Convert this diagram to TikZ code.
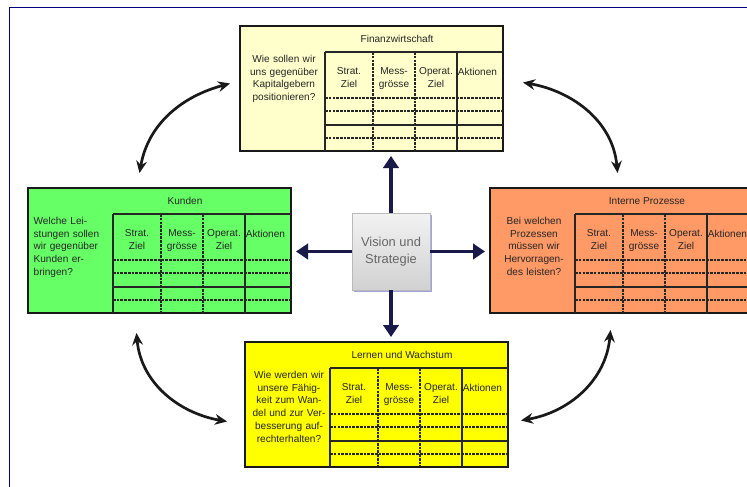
\documentclass[tikz,border=0pt]{standalone}
\usepackage{fontspec}
\setmainfont{Liberation Sans}
\usetikzlibrary{arrows.meta,calc,shadows}

\definecolor{finyellow}{HTML}{FFFFCC}
\definecolor{kundgreen}{HTML}{66FF66}
\definecolor{procorange}{HTML}{FF9966}
\definecolor{learnyellow}{HTML}{FFFF00}
\definecolor{spokeblue}{HTML}{1A1A4A}
\definecolor{framenavy}{HTML}{000080}

\newcommand{\scorecard}[6]{%
\begin{scope}[shift={#2}]
\node [card,fill=#3] (#1) at (0,0) {};
\draw [gridline] (85,26) -- (263,26);
\draw [gridline] (85,26) -- (85,125);
\draw [griddash] (133,26) -- (133,125);
\draw [griddash] (175,26) -- (175,125);
\draw [gridline] (217,26) -- (217,125);
\draw [griddash] (85,72) -- (263,72);
\draw [griddash] (85,85) -- (263,85);
\draw [gridline] (85,99) -- (263,99);
\draw [griddash] (85,112) -- (263,112);
\node [txt] (#1-title) at (157,13) {#4};
\node [txt,anchor=north,text width=23mm,align=#5] (#1-ask) at (44,28) {#6};
\node [txt,anchor=north,align=center] (#1-c1) at (109,41) {Strat.\\Ziel};
\node [txt,anchor=north,align=center] (#1-c2) at (154,41) {Mess-\\grösse};
\node [txt,anchor=north,align=center] (#1-c3) at (196,41) {Operat.\\Ziel};
\node [txt,anchor=north west] (#1-c4) at (217,41) {Aktionen};
\end{scope}}

\begin{document}
\begin{tikzpicture}[x=0.3mm,y=-0.3mm,
  card/.style={draw=black!90,line width=2pt,anchor=north west,minimum width=78.9mm,minimum height=37.5mm,inner sep=0pt,outer sep=0pt},
  gridline/.style={draw=black!85,line width=1pt},
  griddash/.style={gridline,dash pattern=on 2.2pt off 1pt},
  txt/.style={font=\fontsize{8.6}{11}\selectfont,text=black!85,inner sep=0.5pt},
  vision/.style={minimum width=23.4mm,minimum height=23.1mm,top color=gray!10,bottom color=gray!36,draw=gray!55,align=center,text=black!60,font=\fontsize{11}{14.5}\selectfont,drop shadow={shadow xshift=0.7mm,shadow yshift=-0.7mm,fill=blue!45!gray,opacity=0.5}},
  spoke/.style={draw=spokeblue,line width=3.4pt,-{Triangle[length=3.6mm,width=4.6mm]},shorten >=1.5mm},
  swing/.style={draw=black!90,line width=2.3pt,{Stealth[length=3.6mm,width=3.2mm]}-{Stealth[length=3.6mm,width=3.2mm]}}]
\useasboundingbox (0,0) rectangle (747,486);
\clip (0,0) rectangle (747,486);
\draw [framenavy,line width=1.2pt] (9.5,500) -- (9.5,7.5) -- (760,7.5);

\scorecard{fin}{(240,26)}{finyellow}{Finanzwirtschaft}{center}{Wie sollen wir\\uns gegenüber\\Kapitalgebern\\positionieren?}
\scorecard{kun}{(28,188)}{kundgreen}{Kunden}{left}{Welche Lei-\\stungen sollen\\wir gegenüber\\Kunden er-\\bringen?}
\scorecard{intp}{(490,188)}{procorange}{Interne Prozesse}{center}{Bei welchen\\Prozessen\\müssen wir\\Hervorragen-\\des leisten?}
\scorecard{lern}{(245,342)}{learnyellow}{Lernen und Wachstum}{center}{Wie werden wir\\unsere Fähig-\\keit zum Wan-\\del und zur Ver-\\besserung auf-\\rechterhalten?}

\node [vision] (vis) at (391,251.5) {Vision und\\Strategie};

\draw [spoke] (vis.north) -- (vis.north |- fin.south);
\draw [spoke] (vis.south) -- (vis.south |- lern.north);
\draw [spoke] (vis.west) -- (vis.west -| kun.east);
\draw [spoke] (vis.east) -- (vis.east -| intp.west);

\draw [swing] ($(kun.north)+(-20,-15)$) to [out=80,in=195] ($(fin.west)+(-10,-5)$);
\draw [swing] ($(fin.east)+(20,-6)$) to [out=-10,in=95] ($(intp.north)+(-4,-15)$);
\draw [swing] ($(kun.south)+(-23,20)$) to [out=-85,in=170] ($(lern.west)+(-18,17)$);
\draw [swing] ($(lern.east)+(13,16)$) to [out=10,in=-95] ($(intp.south)+(-11,17)$);
\end{tikzpicture}
\end{document}
